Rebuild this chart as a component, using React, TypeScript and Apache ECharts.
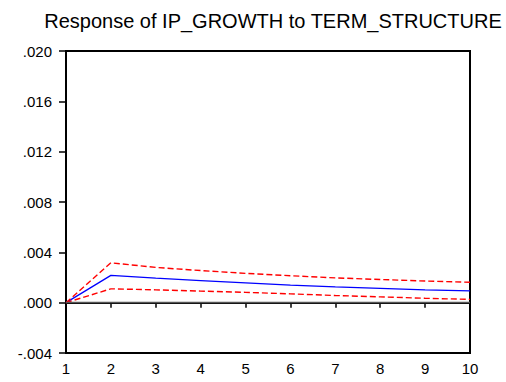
import React, { useEffect, useRef } from "react";
import * as echarts from "echarts";

// Impulse response horizon
const periods = ["1", "2", "3", "4", "5", "6", "7", "8", "9", "10"];
// Response of IP_GROWTH to a TERM_STRUCTURE shock
const response = [0, 0.00217, 0.00195, 0.00175, 0.00157, 0.0014, 0.00125, 0.00113, 0.00102, 0.00093];
// ±2 S.E. bands
const upperBand = [0, 0.00317, 0.0028, 0.00255, 0.00233, 0.00214, 0.00197, 0.00184, 0.00172, 0.00162];
const lowerBand = [0, 0.0011, 0.00102, 0.00092, 0.00082, 0.0007, 0.00057, 0.00046, 0.00035, 0.00026];

const fmt = (v: number) => {
  const s = v.toFixed(3);
  return s.replace("0.", ".");
};

export default function App() {
  const ref = useRef<HTMLDivElement>(null);
  useEffect(() => {
    if (!ref.current) return;
    const chart = echarts.init(ref.current, undefined, { renderer: "svg" });
    const font = "Liberation Sans, Arial, sans-serif";
    chart.setOption({
      animation: false,
      backgroundColor: "#ffffff",
      title: {
        text: "Response of IP_GROWTH to TERM_STRUCTURE",
        left: 268,
        textAlign: "center",
        top: 6,
        textStyle: { fontFamily: font, fontSize: 20, fontWeight: "normal", color: "#000" },
      },
      grid: {
        left: 66,
        right: 36,
        top: 51,
        bottom: 29,
        outerBoundsMode: "none",
        containLabel: false,
        show: true,
        borderColor: "#000",
        borderWidth: 2,
        backgroundColor: "#fff",
      },
      xAxis: {
        type: "category",
        data: periods,
        boundaryGap: false,
        axisLine: { lineStyle: { color: "#000", width: 2 } },
        axisTick: { show: true, length: 5, lineStyle: { color: "#000", width: 1.5 } },
        axisLabel: { color: "#000", fontFamily: font, fontSize: 15, margin: 8 },
        splitLine: { show: false },
      },
      yAxis: {
        type: "value",
        min: -0.004,
        max: 0.02,
        interval: 0.004,
        axisLine: { show: true, lineStyle: { color: "#000", width: 2 } },
        axisTick: { show: true, length: 7, lineStyle: { color: "#000", width: 1.5 } },
        axisLabel: { color: "#000", fontFamily: font, fontSize: 15, margin: 14, formatter: fmt },
        splitLine: { show: false },
      },
      series: [
        {
          type: "line",
          data: response,
          symbol: "none",
          lineStyle: { color: "#0000ff", width: 1.3 },
          z: 3,
          markLine: {
            silent: true,
            symbol: "none",
            label: { show: false },
            lineStyle: { color: "#555", width: 1.3, type: "solid" },
            data: [{ yAxis: 0 }],
          },
        },
        {
          type: "line",
          data: upperBand,
          symbol: "none",
          lineStyle: { color: "#ff0000", width: 1.4, type: [6, 3] },
        },
        {
          type: "line",
          data: lowerBand,
          symbol: "none",
          lineStyle: { color: "#ff0000", width: 1.4, type: [6, 3] },
        },
      ],
    });
    return () => chart.dispose();
  }, []);
  return <div ref={ref} style={{ width: 506, height: 382, position: "absolute", left: 0, top: 0 }} />;
}
